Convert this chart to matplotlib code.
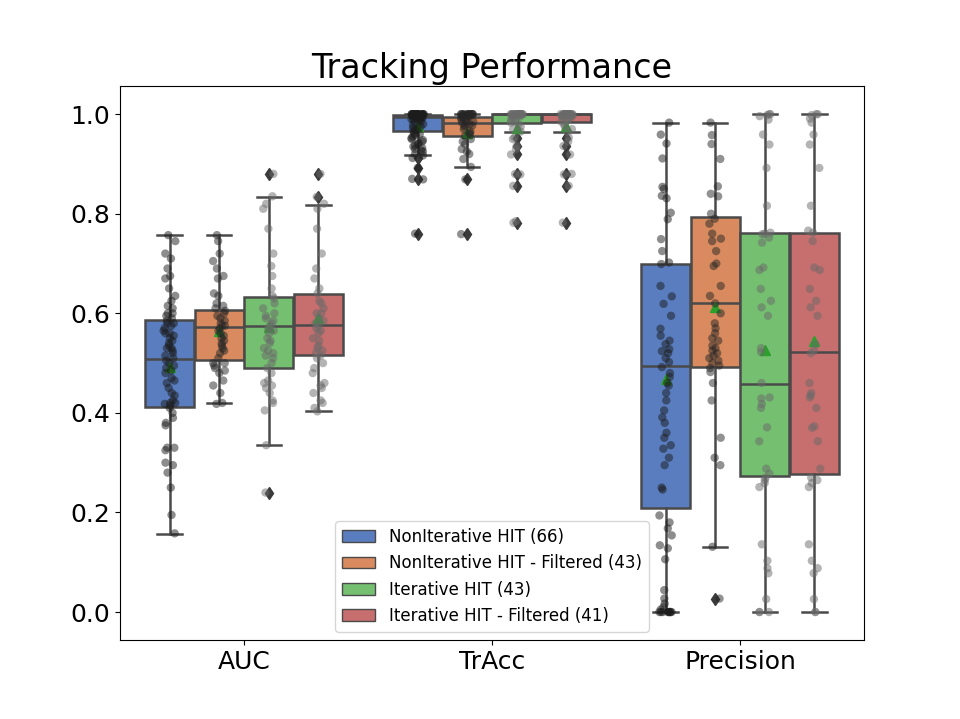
import pandas as pd
import numpy as np
import matplotlib
matplotlib.use('Agg')
import matplotlib.pyplot as plt
import seaborn as sns
from matplotlib.patches import Patch

metrics = ['AUC', 'TrAcc', 'Precision']
groups = ['NonIterative HIT (66)', 'NonIterative HIT - Filtered (43)',
          'Iterative HIT (43)', 'Iterative HIT - Filtered (41)']

# points
auc_nonit = [0.757, 0.745, 0.72, 0.71, 0.69, 0.675, 0.67, 0.65, 0.635, 0.625, 0.615, 0.61,
             0.60, 0.60, 0.595, 0.59, 0.585, 0.58, 0.58, 0.575, 0.57, 0.565, 0.56, 0.56, 0.555,
             0.55, 0.545, 0.54, 0.535, 0.53, 0.53, 0.525, 0.52, 0.515, 0.51, 0.505, 0.50, 0.495,
             0.49, 0.485, 0.48, 0.47, 0.465, 0.46, 0.45, 0.44, 0.435, 0.425, 0.42, 0.42, 0.418,
             0.415, 0.41, 0.40, 0.39, 0.38, 0.375, 0.33, 0.325, 0.33, 0.30, 0.295, 0.28, 0.25,
             0.195, 0.158]
auc_nonit_f = [0.757, 0.745, 0.72, 0.705, 0.69, 0.675, 0.67, 0.64, 0.635, 0.62, 0.615, 0.61,
               0.605, 0.60, 0.595, 0.59, 0.585, 0.58, 0.575, 0.575, 0.57, 0.565, 0.56, 0.555,
               0.55, 0.545, 0.54, 0.535, 0.53, 0.525, 0.52, 0.51, 0.50, 0.495, 0.49, 0.485,
               0.48, 0.465, 0.455, 0.44, 0.42, 0.418, 0.50]
auc_it = [0.88, 0.835, 0.82, 0.81, 0.77, 0.72, 0.695, 0.675, 0.65, 0.635, 0.63, 0.62, 0.61,
          0.60, 0.595, 0.59, 0.585, 0.58, 0.575, 0.57, 0.565, 0.56, 0.55, 0.545, 0.54, 0.53,
          0.525, 0.52, 0.515, 0.51, 0.50, 0.49, 0.48, 0.465, 0.46, 0.455, 0.45, 0.44, 0.425,
          0.42, 0.405, 0.335, 0.24]
auc_it_f = [0.88, 0.834, 0.82, 0.81, 0.77, 0.72, 0.69, 0.67, 0.65, 0.64, 0.625, 0.62, 0.61,
            0.60, 0.60, 0.59, 0.585, 0.58, 0.575, 0.57, 0.565, 0.56, 0.55, 0.545, 0.535, 0.53,
            0.525, 0.52, 0.515, 0.51, 0.50, 0.49, 0.48, 0.46, 0.455, 0.45, 0.44, 0.425, 0.42,
            0.41, 0.403]

tracc_nonit = [1.0, 1.0, 1.0, 1.0, 1.0, 1.0, 1.0, 1.0, 1.0, 1.0, 1.0, 1.0, 1.0, 1.0, 1.0, 1.0,
               1.0, 1.0, 0.999, 0.999, 0.998, 0.997, 0.997, 0.996, 0.995, 0.995, 0.994, 0.994,
               0.993, 0.992, 0.99, 0.99, 0.989, 0.987, 0.985, 0.983, 0.98, 0.978, 0.975, 0.972,
               0.97, 0.968, 0.965, 0.962, 0.96, 0.958, 0.955, 0.952, 0.95, 0.948, 0.945, 0.942,
               0.94, 0.937, 0.935, 0.932, 0.93, 0.927, 0.925, 0.92, 0.917, 0.912, 0.892, 0.87,
               0.869, 0.76]
tracc_nonit_f = [1.0, 1.0, 1.0, 1.0, 1.0, 1.0, 1.0, 1.0, 1.0, 1.0, 1.0, 1.0, 0.999, 0.998,
                 0.997, 0.996, 0.995, 0.993, 0.992, 0.99, 0.988, 0.985, 0.985, 0.983, 0.98,
                 0.978, 0.977, 0.975, 0.97, 0.965, 0.962, 0.96, 0.956, 0.95, 0.945, 0.94, 0.93,
                 0.925, 0.92, 0.91, 0.894, 0.869, 0.759]
tracc_it = [1.0, 1.0, 1.0, 1.0, 1.0, 1.0, 1.0, 1.0, 1.0, 1.0, 1.0, 1.0, 1.0, 1.0, 1.0, 1.0,
            1.0, 1.0, 1.0, 1.0, 0.999, 0.998, 0.997, 0.996, 0.994, 0.99, 0.988, 0.985, 0.983,
            0.98, 0.975, 0.97, 0.965, 0.953, 0.95, 0.936, 0.93, 0.919, 0.88, 0.879, 0.856,
            0.785, 0.782]
tracc_it_f = [1.0, 1.0, 1.0, 1.0, 1.0, 1.0, 1.0, 1.0, 1.0, 1.0, 1.0, 1.0, 1.0, 1.0, 1.0, 1.0,
              1.0, 1.0, 1.0, 1.0, 0.999, 0.998, 0.997, 0.996, 0.995, 0.993, 0.99, 0.987, 0.985,
              0.98, 0.975, 0.97, 0.965, 0.953, 0.945, 0.936, 0.919, 0.88, 0.879, 0.856, 0.782]

prec_nonit = [0.983, 0.959, 0.941, 0.911, 0.854, 0.85, 0.836, 0.831, 0.802, 0.789, 0.749,
              0.725, 0.702, 0.699, 0.655, 0.634, 0.619, 0.595, 0.569, 0.555, 0.545, 0.538,
              0.528, 0.524, 0.52, 0.51, 0.502, 0.492, 0.48, 0.472, 0.46, 0.455, 0.44, 0.425,
              0.405, 0.391, 0.38, 0.36, 0.35, 0.335, 0.328, 0.31, 0.295, 0.25, 0.246, 0.194,
              0.18, 0.168, 0.154, 0.134, 0.128, 0.106, 0.044, 0.027, 0.017, 0.01, 0.005, 0.0,
              0.0, 0.0, 0.0, 0.0, 0.0, 0.0, 0.0, 0.0]
prec_nonit_f = [0.983, 0.958, 0.94, 0.91, 0.855, 0.84, 0.835, 0.80, 0.79, 0.78, 0.76, 0.75,
                0.745, 0.725, 0.70, 0.695, 0.655, 0.635, 0.62, 0.60, 0.58, 0.57, 0.56, 0.55,
                0.545, 0.535, 0.53, 0.525, 0.52, 0.515, 0.51, 0.505, 0.50, 0.495, 0.49, 0.482,
                0.46, 0.425, 0.35, 0.31, 0.295, 0.131, 0.027]
prec_it = [1.0, 1.0, 0.998, 0.996, 0.989, 0.959, 0.939, 0.892, 0.816, 0.762, 0.76, 0.759,
           0.752, 0.742, 0.692, 0.687, 0.649, 0.625, 0.612, 0.595, 0.53, 0.522, 0.46, 0.431,
           0.429, 0.418, 0.41, 0.371, 0.343, 0.288, 0.278, 0.27, 0.265, 0.259, 0.251, 0.136,
           0.103, 0.088, 0.078, 0.026, 0.0, 0.0, 0.0]
prec_it_f = [1.0, 1.0, 0.998, 0.991, 0.983, 0.959, 0.939, 0.892, 0.816, 0.766, 0.762, 0.745,
             0.692, 0.687, 0.649, 0.625, 0.612, 0.595, 0.538, 0.525, 0.52, 0.46, 0.44, 0.435,
             0.431, 0.41, 0.373, 0.37, 0.343, 0.288, 0.27, 0.265, 0.259, 0.251, 0.136, 0.103,
             0.088, 0.078, 0.026, 0.0, 0.0]

# box statistics: q1, median, q3, lower whisker, upper whisker, mean
box_q1 = [[0.411, 0.507, 0.491, 0.517], [0.966, 0.956, 0.983, 0.985], [0.208, 0.493, 0.273, 0.277]]
box_med = [[0.509, 0.573, 0.575, 0.577], [0.995, 0.983, 1.0, 1.0], [0.495, 0.620, 0.459, 0.522]]
box_q3 = [[0.587, 0.607, 0.633, 0.639], [0.999, 0.995, 1.0, 1.0], [0.700, 0.794, 0.762, 0.762]]
whis_lo = [[0.156, 0.419, 0.335, 0.403], [0.917, 0.894, 0.964, 0.965], [0.0, 0.131, 0.0, 0.0]]
whis_hi = [[0.757, 0.757, 0.834, 0.817], [1.0, 1.0, 1.0, 1.0], [0.983, 0.983, 1.0, 1.0]]
box_mean = [[0.493, 0.565, 0.572, 0.590], [0.976, 0.963, 0.973, 0.976], [0.468, 0.612, 0.526, 0.544]]
fliers = [[[], [], [0.879, 0.240], [0.879, 0.834]],
          [[0.912, 0.892, 0.869, 0.76], [0.869, 0.759],
           [0.953, 0.936, 0.919, 0.879, 0.856, 0.782], [0.953, 0.936, 0.919, 0.879, 0.856, 0.782]],
          [[], [0.027], [], []]]

points = {
    'AUC': [auc_nonit, auc_nonit_f, auc_it, auc_it_f],
    'TrAcc': [tracc_nonit, tracc_nonit_f, tracc_it, tracc_it_f],
    'Precision': [prec_nonit, prec_nonit_f, prec_it, prec_it_f],
}

rows = []
for m in metrics:
    for g, vals in zip(groups, points[m]):
        for v in vals:
            rows.append((m, g, v))
df = pd.DataFrame(rows, columns=['metric', 'group', 'value'])

fig, ax = plt.subplots(figsize=(9.6, 7.19), dpi=100)

line_gray = '#4a4a4a'
box_colors = [sns.desaturate(c, 0.75) for c in sns.color_palette('muted', 4)]
offsets = [-0.3, -0.1, 0.1, 0.3]

for j in range(4):
    stats = []
    for i in range(3):
        stats.append(dict(q1=box_q1[i][j], med=box_med[i][j], q3=box_q3[i][j],
                          whislo=whis_lo[i][j], whishi=whis_hi[i][j],
                          mean=box_mean[i][j], fliers=fliers[i][j]))
    ax.bxp(stats, positions=[i + offsets[j] for i in range(3)], widths=0.196,
           patch_artist=True, showmeans=True, manage_ticks=False, zorder=0.9,
           boxprops=dict(facecolor=box_colors[j], edgecolor=line_gray, linewidth=1.8),
           medianprops=dict(color=line_gray, linewidth=1.8),
           whiskerprops=dict(color=line_gray, linewidth=1.8),
           capprops=dict(color=line_gray, linewidth=1.8),
           flierprops=dict(marker='d', markerfacecolor='#3a3a3a', markeredgecolor='#3a3a3a',
                           markersize=6),
           meanprops=dict(marker='^', markerfacecolor='#2ca02c', markeredgecolor='#2ca02c',
                          markersize=7))

point_colors = ['#1c1c1c', '#262626', '#6a6a6a', '#6a6a6a']
sns.stripplot(data=df, x='metric', y='value', hue='group', order=metrics, hue_order=groups,
              palette=point_colors, dodge=True, alpha=0.5, size=6, jitter=0.1,
              legend=False, ax=ax, zorder=2)

handles = [Patch(facecolor=box_colors[j], edgecolor=line_gray, label=groups[j]) for j in range(4)]
ax.legend(handles=handles, loc='lower center', fontsize=12)

ax.set_xlim(-0.5, 2.5)
ax.set_ylim(-0.056, 1.056)
ax.set_xlabel('')
ax.set_ylabel('')
ax.set_title('Tracking Performance', fontsize=24)
ax.tick_params(axis='both', labelsize=18)

plt.savefig('out.png', dpi=100)
